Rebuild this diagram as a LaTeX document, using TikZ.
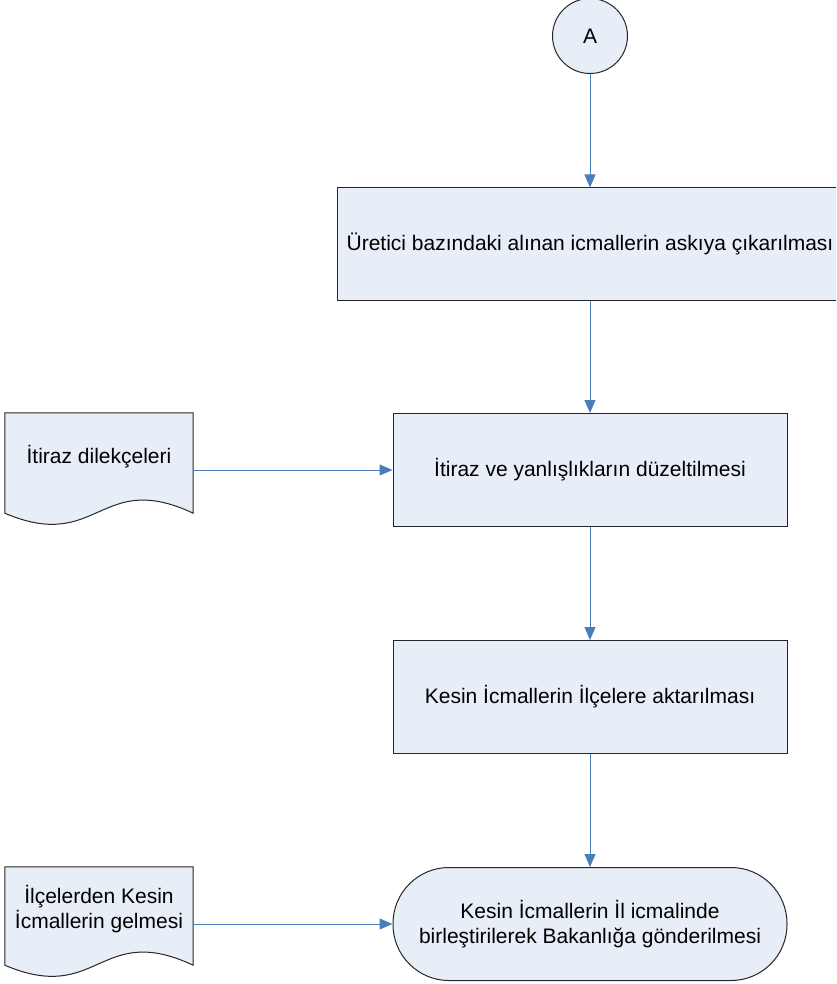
\documentclass[tikz,border=0pt]{standalone}
\usepackage{fontspec}
\setmainfont{Liberation Sans}
\usepackage{tikz}
\usetikzlibrary{arrows.meta,calc,backgrounds}
\definecolor{boxfill}{RGB}{232,238,247}
\definecolor{flowblue}{RGB}{74,126,187}
\tikzset{
    x=1pt,
    y=-1pt,
    every node/.style = {
        font=\fontsize{21}{24.5}\selectfont,
        align=center
    },
    process/.style = {
        draw=black!85,
        fill=boxfill,
        shape=rectangle,
        minimum height=113pt,
        minimum width=394pt,
        line width=1pt
    },
    terminal/.style = {
        process,
        rounded corners=56pt
    },
    connector/.style = {
        draw=black!85,
        fill=boxfill,
        shape=circle,
        minimum size=75pt,
        inner sep=0pt,
        line width=1pt
    },
    document/.style = {
        shape=rectangle,
        minimum width=188pt,
        inner sep=0pt
    },
    docline/.style = {
        draw=black!85,
        fill=boxfill,
        line width=1pt
    },
    flow/.style = {
        draw=flowblue,
        line width=1pt,
        ->
    },
    >={Triangle[length=13pt,width=11pt]},
}
% wavy document outline behind a node
\newcommand{\docshape}[2]{%
    \begin{pgfonlayer}{background}
    \path[docline] (#1.north west) -- (#1.north east) -- ($(#1.south east)+(0,#2)$)
        .. controls +(-94,-44) and +(94,40) .. ($(#1.south west)+(0,#2)$) -- cycle;
    \end{pgfonlayer}
}

\begin{document}
\begin{tikzpicture}
            \clip (0,0) rectangle (836,984);

            \node[connector] (ca) at (590,36) {A};
            \node[process, minimum width=506pt, minimum height=112pt] (askiya) at (590,244)
                {Üretici bazındaki alınan icmallerin askıya çıkarılması};
            \node[process] (duzelt) at (590,470) {İtiraz ve yanlışlıkların düzeltilmesi};
            \node[process] (aktar) at (590,697) {Kesin İcmallerin İlçelere aktarılması};
            \node[terminal] (bakanlik) at (590,924)
                {Kesin İcmallerin İl icmalinde\\birleştirilerek Bakanlığa gönderilmesi};

            \node[document, minimum height=88pt] (dilekce) at (99,457) {İtiraz dilekçeleri};
            \node[document, minimum height=84pt] (ilceler) at (99,909)
                {İlçelerden Kesin\\İcmallerin gelmesi};
            \docshape{dilekce}{12}
            \docshape{ilceler}{14}

            \path[flow] (ca) -- (askiya);
            \path[flow] (askiya) -- (duzelt);
            \path[flow] (duzelt) -- (aktar);
            \path[flow] (aktar) -- (bakanlik);
            \path[flow] (dilekce.east |- duzelt.west) -- (duzelt.west);
            \path[flow] (ilceler.east |- bakanlik.west) -- (bakanlik.west);
        \end{tikzpicture}
\end{document}
